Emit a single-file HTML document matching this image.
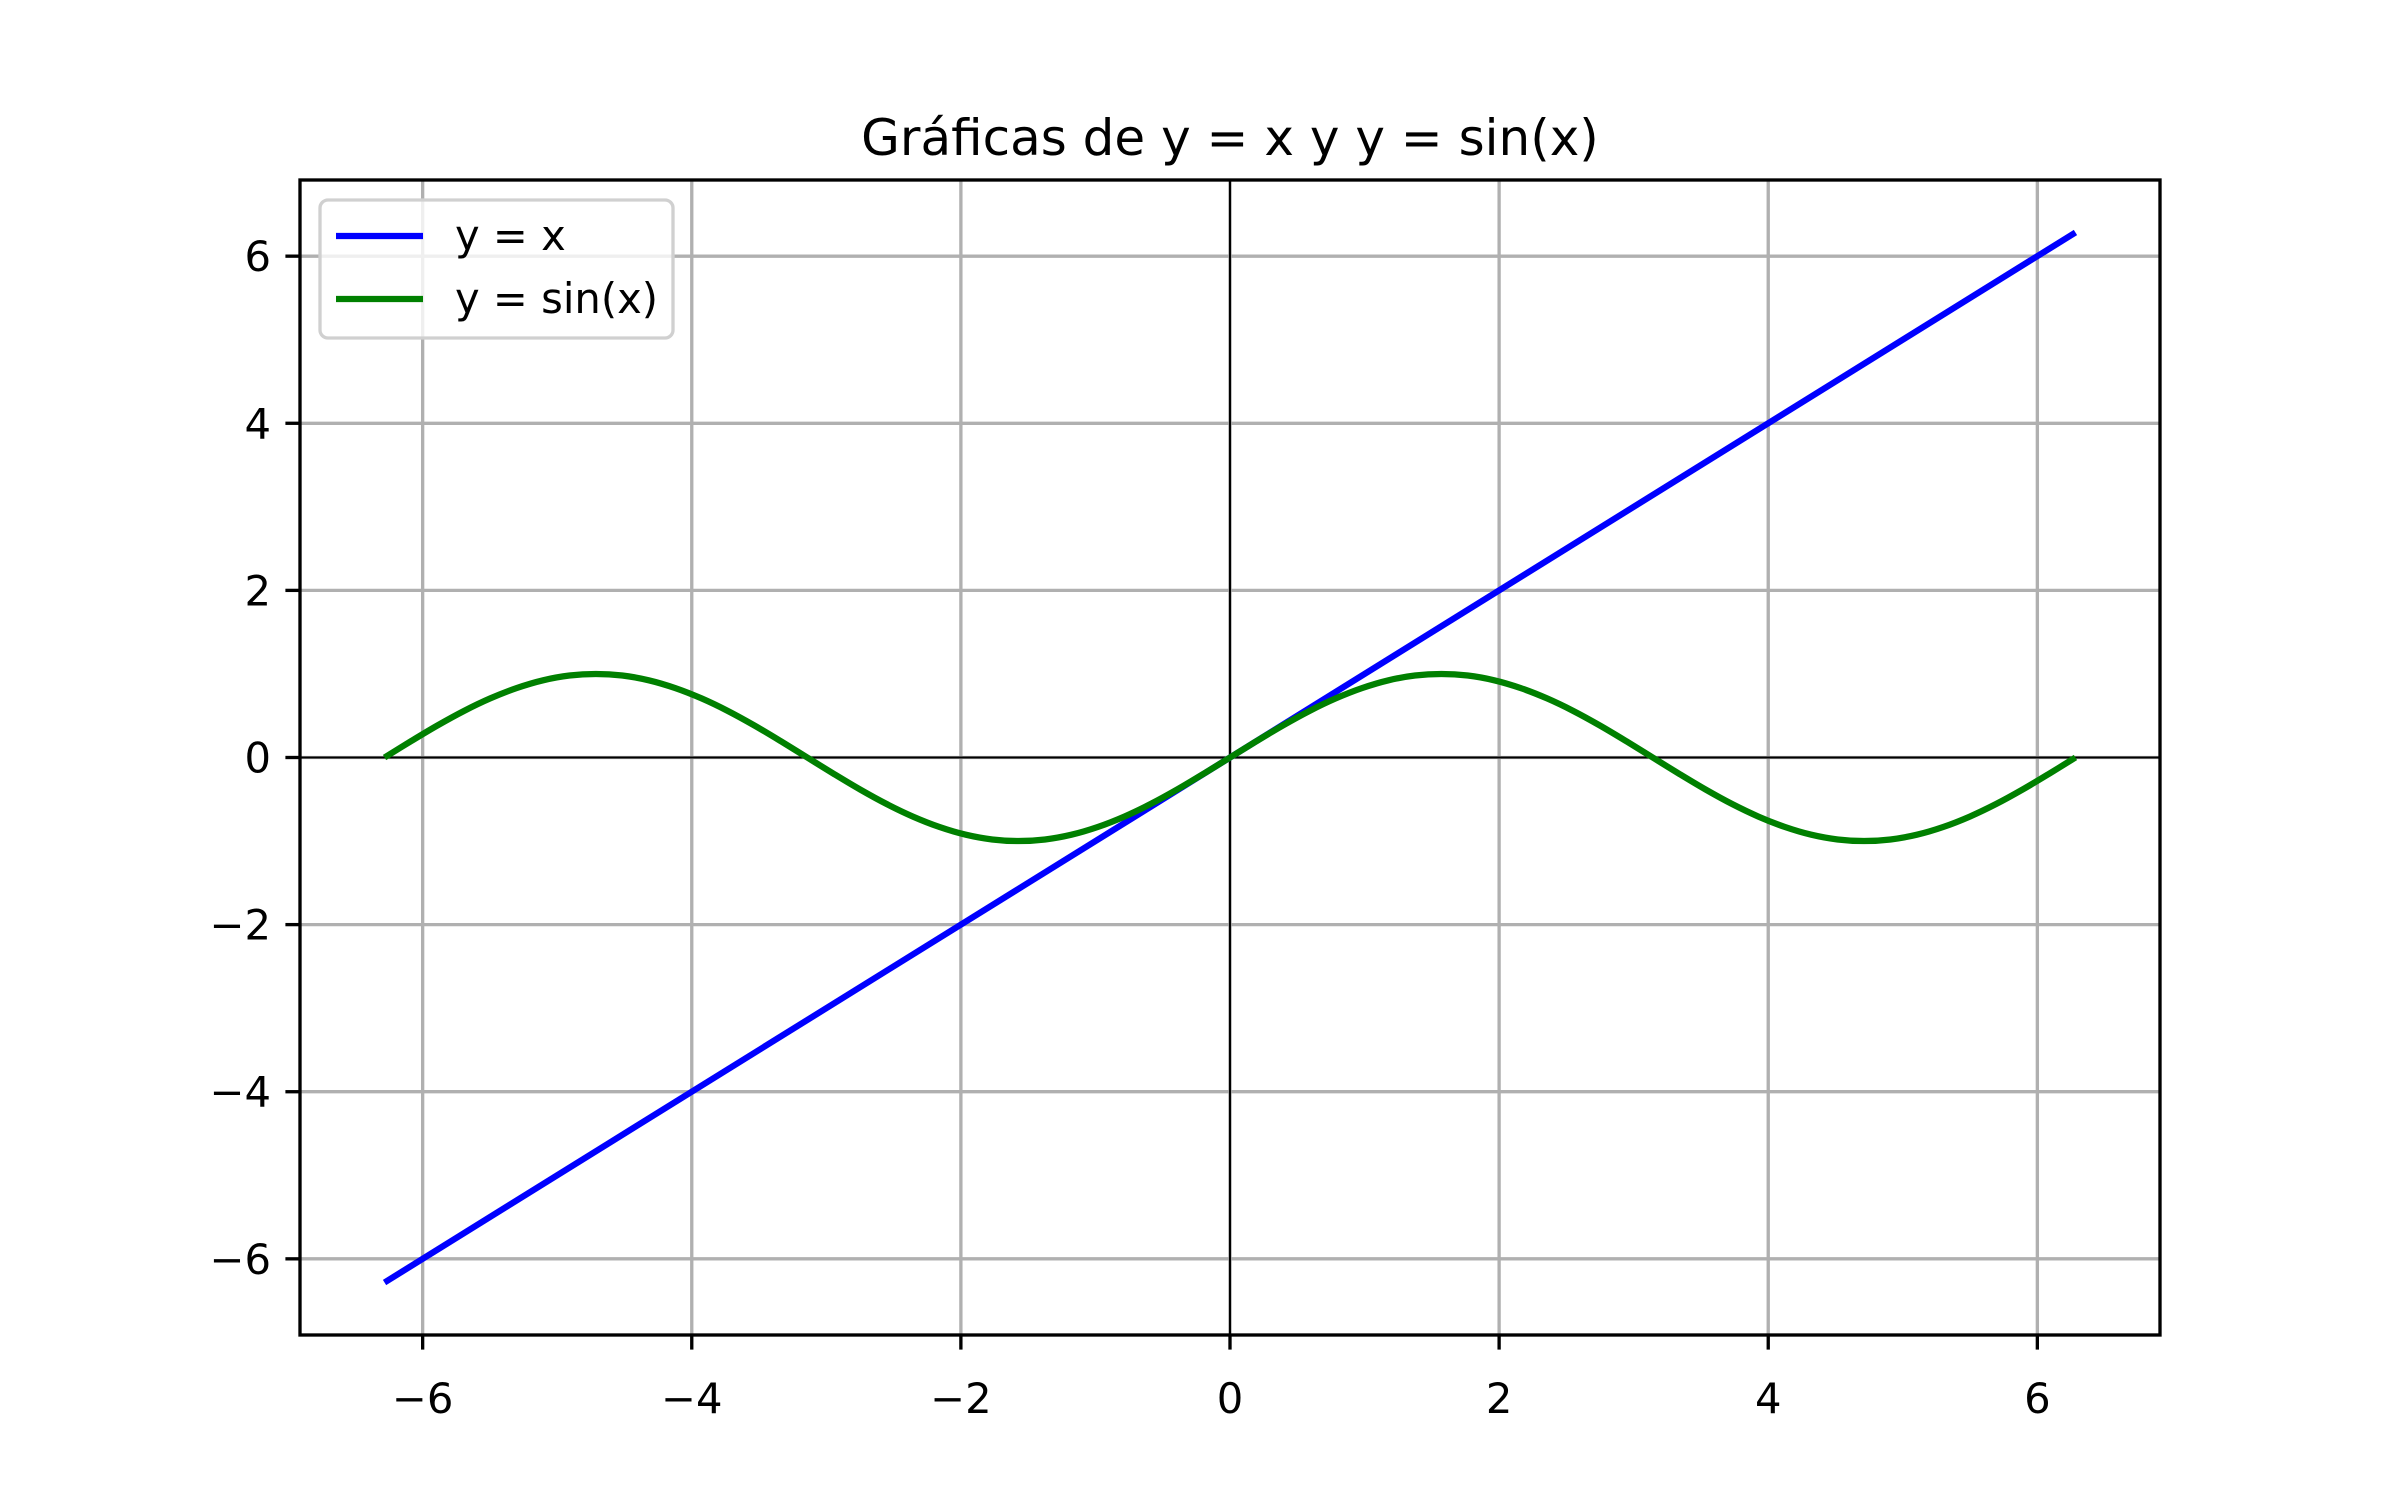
<!DOCTYPE html>
<html><head><meta charset="utf-8"><style>
html,body{margin:0;padding:0;background:#fff;}
svg{display:block;font-family:"DejaVu Sans","Liberation Sans",sans-serif;}
</style></head><body>
<svg id="chart" width="2400" height="1500" viewBox="0 0 2400 1500" xmlns="http://www.w3.org/2000/svg">
<rect x="0" y="0" width="2400" height="1500" fill="#fff"/>
<text x="1230" y="155" font-size="50" text-anchor="middle" fill="#000">Gráficas de y = x y y = sin(x)</text>
<g id="grid"></g>
<g id="refs"></g>
<g id="series"></g>
<rect x="300" y="180" width="1860" height="1155" fill="none" stroke="#000" stroke-width="3.33"/>
<g id="ticks"></g>
<g>
<rect x="320" y="200" width="353" height="138" rx="8" fill="#fff" fill-opacity="0.8" stroke="#d0d0d0" stroke-width="3.33"/>
<line x1="336" y1="236" x2="423" y2="236" stroke="#0000ff" stroke-width="6.25"/>
<text x="455" y="250" font-size="41.7">y = x</text>
<line x1="336" y1="299" x2="423" y2="299" stroke="#008000" stroke-width="6.25"/>
<text x="455" y="313" font-size="41.7">y = sin(x)</text>
</g>
</svg>
<script>
const xTicks = [-6, -4, -2, 0, 2, 4, 6];
const yTicks = [-6, -4, -2, 0, 2, 4, 6];
const xTickLabels = ["−6", "−4", "−2", "0", "2", "4", "6"];
const yTickLabels = ["−6", "−4", "−2", "0", "2", "4", "6"];
const lineX = [-6.2832, 6.2832];
const lineY = [-6.2832, 6.2832];
const sinStart = -6.2832;
const sinStep = 0.19635;
const sinY = [0,.195,.383,.556,.707,.831,.924,.981,1,.981,.924,.831,.707,.556,.383,.195,0,
-.195,-.383,-.556,-.707,-.831,-.924,-.981,-1,-.981,-.924,-.831,-.707,-.556,-.383,-.195,0,
.195,.383,.556,.707,.831,.924,.981,1,.981,.924,.831,.707,.556,.383,.195,0,
-.195,-.383,-.556,-.707,-.831,-.924,-.981,-1,-.981,-.924,-.831,-.707,-.556,-.383,-.195,0];

const L=300,R=2160,T=180,B=1335, lim=6.9115;
const sx=v=>L+(v+lim)/(2*lim)*(R-L);
const sy=v=>B-(v+lim)/(2*lim)*(B-T);
const NS="http://www.w3.org/2000/svg";
function mk(tag,attrs,parent){const e=document.createElementNS(NS,tag);for(const k in attrs)e.setAttribute(k,attrs[k]);document.getElementById(parent).appendChild(e);return e;}

xTicks.forEach((v,i)=>{
  const g=mk('line',{x1:sx(v),x2:sx(v),y1:T,y2:B,stroke:'#b0b0b0','stroke-width':3.33},'grid');
  
  
  const t=mk('line',{x1:sx(v),x2:sx(v),y1:B,y2:B+14.6,stroke:'#000','stroke-width':3.33},'ticks');
  
  
  const l=mk('text',{x:sx(v),y:B+78,'font-size':41.7,'text-anchor':'middle'},'ticks');
  l.textContent=xTickLabels[i];
  
  
});
yTicks.forEach((v,i)=>{
  const g=mk('line',{x1:L,x2:R,y1:sy(v),y2:sy(v),stroke:'#b0b0b0','stroke-width':3.33},'grid');
  
  
  const t=mk('line',{x1:L-14.6,x2:L,y1:sy(v),y2:sy(v),stroke:'#000','stroke-width':3.33},'ticks');
  
  
  const l=mk('text',{x:L-29,y:sy(v)+15,'font-size':41.7,'text-anchor':'end'},'ticks');
  l.textContent=yTickLabels[i];
  
  
});
const h=mk('line',{x1:L,x2:R,y1:sy(0),y2:sy(0),stroke:'#000','stroke-width':2.1},'refs');


const vl=mk('line',{x1:sx(0),x2:sx(0),y1:T,y2:B,stroke:'#000','stroke-width':2.1},'refs');



const p1=mk('polyline',{points:lineX.map((x,i)=>sx(x)+','+sy(lineY[i])).join(' '),fill:'none',stroke:'#0000ff','stroke-width':6.25},'series');



const pts=sinY.map((y,i)=>[sx(sinStart+i*sinStep),sy(y)]);
let d='M'+pts[0][0]+','+pts[0][1];
for(let i=0;i<pts.length-1;i++){
  const p0=pts[Math.max(0,i-1)],a=pts[i],b=pts[i+1],p3=pts[Math.min(pts.length-1,i+2)];
  const c1x=a[0]+(b[0]-p0[0])/6,c1y=a[1]+(b[1]-p0[1])/6;
  const c2x=b[0]-(p3[0]-a[0])/6,c2y=b[1]-(p3[1]-a[1])/6;
  d+=' C'+c1x+','+c1y+' '+c2x+','+c2y+' '+b[0]+','+b[1];
}
const p2=mk('path',{d:d,fill:'none',stroke:'#008000','stroke-width':6.25,'stroke-linejoin':'round'},'series');


</script>
</body></html>
